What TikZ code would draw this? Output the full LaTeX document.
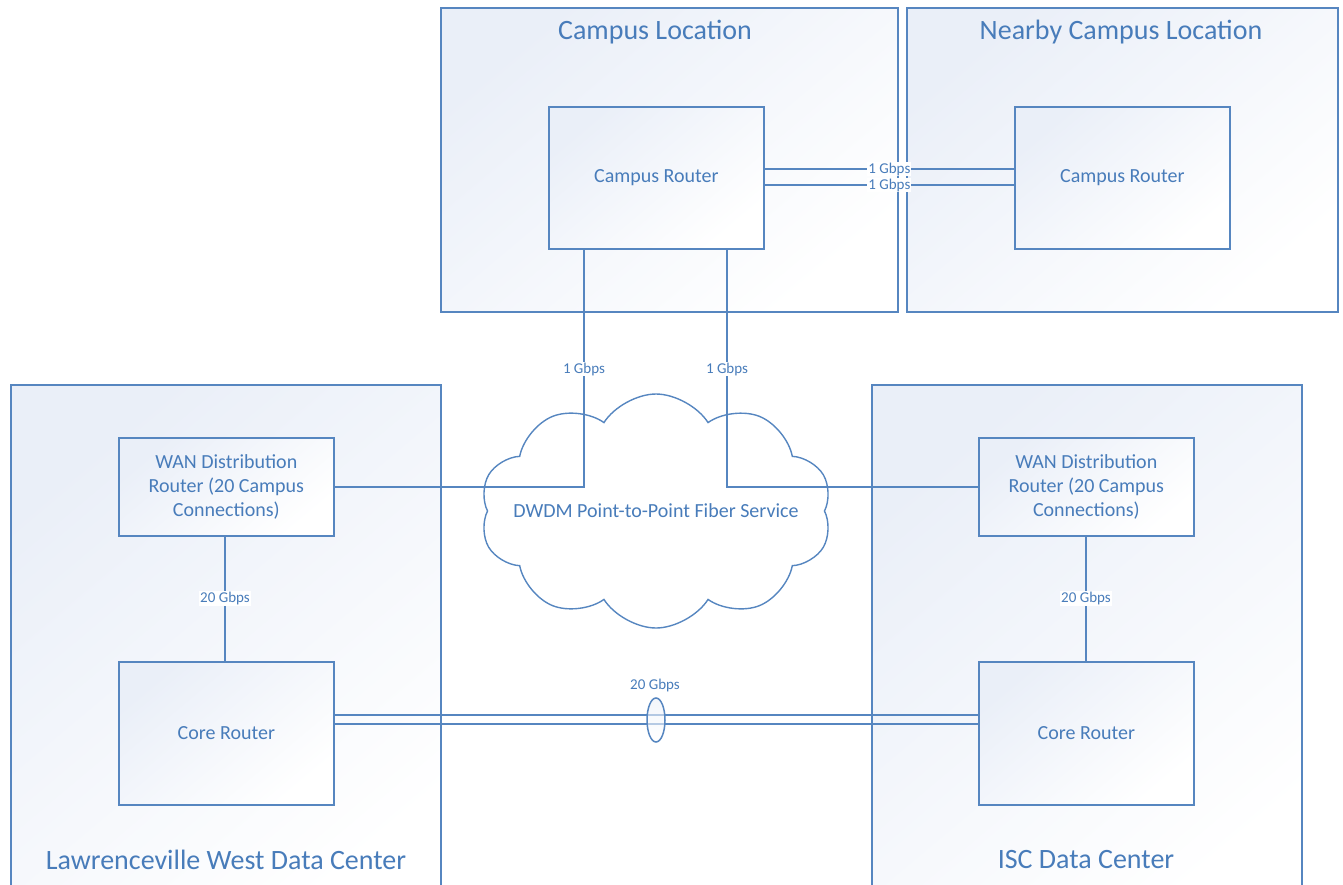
\documentclass[tikz,border=0pt]{standalone}
\usepackage{fontspec}
\setmainfont{Carlito}
\usetikzlibrary{shapes.symbols,shapes.geometric}
\definecolor{ln}{RGB}{86,134,192}
\definecolor{tx}{RGB}{72,124,186}
\definecolor{sh}{RGB}{234,239,248}
\tikzset{
  box/.style={draw=ln, line width=1.7pt, rectangle, anchor=north west, inner sep=0pt,
    top color=sh, bottom color=white, shading angle=40},
  router/.style={box, text=tx, align=center, font=\fontsize{20}{24}\selectfont},
  title/.style={text=tx, font=\fontsize{28}{32}\selectfont},
  conn/.style={draw=ln, line width=1.7pt},
  lbl/.style={fill=white, text=tx, inner sep=1pt, font=\fontsize{15}{17}\selectfont},
}
\begin{document}
\begin{tikzpicture}[x=1pt,y=-1pt]
\useasboundingbox (0,0) rectangle (1343,884);
\clip (0,0) rectangle (1343,884);
% containers
\node[box, minimum width=457, minimum height=304] (campus) at (440,7) {};
\node[box, minimum width=431, minimum height=304] (nearby) at (906,7) {};
\node[box, minimum width=430, minimum height=540] (lw) at (10,384) {};
\node[box, minimum width=430, minimum height=540] (isc) at (871,384) {};
\node[title] (tcampus) at (655,32) {Campus Location};
\node[title] (tnearby) at (1121,32) {Nearby Campus Location};
\node[title] (tlw) at (226,860) {Lawrenceville West Data Center};
\node[title] (tisc) at (1086,860) {ISC Data Center};
% cloud
\node[cloud, cloud puffs=10, cloud puff arc=115, aspect=1.55, draw=ln, line width=1.4pt, fill=white,
  minimum width=352, minimum height=234, inner sep=0pt] (cloud) at (656,511) {};
% routers
\node[router, minimum width=215, minimum height=142] (crA) at (548,106) {Campus Router};
\node[router, minimum width=215, minimum height=142] (crB) at (1014,106) {Campus Router};
\node[router, minimum width=215, minimum height=98] (wanL) at (118,437) {WAN Distribution\\Router (20 Campus\\Connections)};
\node[router, minimum width=215, minimum height=98] (wanR) at (978,437) {WAN Distribution\\Router (20 Campus\\Connections)};
\node[router, minimum width=215, minimum height=143] (coreL) at (118,661) {Core Router};
\node[router, minimum width=215, minimum height=143] (coreR) at (978,661) {Core Router};
\node[text=tx, font=\fontsize{20}{24}\selectfont] (ctext) at (656,511) {DWDM Point-to-Point Fiber Service};
% campus to nearby
\draw[conn] (crA.east |- 0,169) -- node[lbl]{1 Gbps} (crB.west |- 0,169);
\draw[conn] (crA.east |- 0,185) -- node[lbl]{1 Gbps} (crB.west |- 0,185);
% campus router to WAN routers
\draw[conn] (crA.south -| 584,0) |- (wanL.east);
\draw[conn] (crA.south -| 727,0) |- (wanR.west);
\node[lbl] (l1) at (584,369) {1 Gbps};
\node[lbl] (l2) at (727,369) {1 Gbps};
% WAN to core
\draw[conn] (wanL.south -| 225,0) -- node[lbl]{20 Gbps} (coreL.north -| 225,0);
\draw[conn] (wanR.south -| 1086,0) -- node[lbl]{20 Gbps} (coreR.north -| 1086,0);
% core to core
\draw[conn] (coreL.east |- 0,715) -- (coreR.west |- 0,715);
\draw[conn] (coreL.east |- 0,724) -- (coreR.west |- 0,724);
\node[ellipse, draw=ln, line width=1.5pt, minimum width=18, minimum height=44, inner sep=0pt,
  top color=sh, bottom color=white, fill opacity=0.6] (bundle) at (656,720) {};
\node[text=tx, font=\fontsize{15}{17}\selectfont] (l20) at (655,685) {20 Gbps};
\end{tikzpicture}
\end{document}
